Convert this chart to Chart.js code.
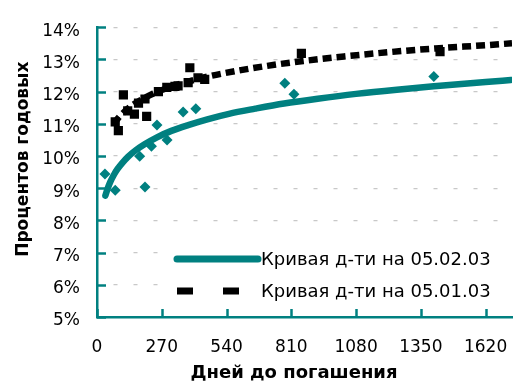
<!DOCTYPE html>
<html>
<head>
<meta charset="utf-8">
<script src="https://cdn.jsdelivr.net/npm/chart.js@4/dist/chart.umd.min.js"></script>
<style>
html,body{margin:0;padding:0;background:#fff;}
canvas{display:block;}
</style>
</head>
<body>
<canvas id="c" width="531" height="383"></canvas>
<script>
// ---- text ----
const xTitle = 'Дней до погашения';
const yTitle = 'Процентов годовых';
const labelFeb = 'Кривая д-ти на 05.02.03';
const labelJan = 'Кривая д-ти на 05.01.03';

// ---- tick labels ----
const xTickValues = [0, 270, 540, 810, 1080, 1350, 1620];
const yTickValues = [5, 6, 7, 8, 9, 10, 11, 12, 13, 14];
const yTickLabels = ['5%', '6%', '7%', '8%', '9%', '10%', '11%', '12%', '13%', '14%'];

// ---- yield curve 05.02.03 (teal solid) ----
const febCurveDays  = [35, 45, 55, 70, 85, 105, 130, 160, 200, 250, 310, 380, 460, 550, 660, 780, 920, 1080, 1250, 1430, 1620, 1725];
const febCurveRates = [8.77, 9.00, 9.19, 9.41, 9.59, 9.78, 9.98, 10.17, 10.37, 10.58, 10.78, 10.96, 11.14, 11.31, 11.47, 11.63, 11.78, 11.93, 12.06, 12.18, 12.30, 12.36];

// ---- yield curve 05.01.03 (black dashed) ----
const janCurveDays  = [70, 90, 115, 145, 185, 235, 300, 380, 470, 580, 710, 860, 1030, 1210, 1410, 1620, 1730];
const janCurveRates = [10.99, 11.19, 11.38, 11.56, 11.75, 11.94, 12.13, 12.31, 12.48, 12.64, 12.80, 12.95, 13.09, 13.22, 13.34, 13.44, 13.50];

// ---- observed bonds 05.02.03 (teal diamonds) ----
const febPointDays  = [33, 76, 178, 200, 227, 250, 292, 359, 412, 783, 821, 1404];
const febPointRates = [9.44, 8.94, 9.99, 9.04, 10.30, 10.96, 10.50, 11.37, 11.47, 12.26, 11.92, 12.47];

// ---- observed bonds 05.01.03 (black squares) ----
const janPointDays  = [76, 89, 110, 128, 156, 173, 200, 207, 256, 291, 325, 338, 380, 387, 421, 449, 852, 1430];
const janPointRates = [11.06, 10.79, 11.90, 11.40, 11.30, 11.64, 11.77, 11.23, 12.00, 12.13, 12.16, 12.18, 12.28, 12.74, 12.43, 12.38, 13.19, 13.24];

const TEAL = '#008080';
const FONT = 'DejaVu Sans';

const toXY = (xs, ys) => xs.map((v, i) => ({x: v, y: ys[i]}));

const decor = {
  id: 'decor',
  beforeDatasetsDraw(chart) {
    const {ctx, chartArea: a, scales: {x, y}} = chart;
    ctx.save();
    ctx.strokeStyle = TEAL;
    ctx.lineWidth = 2.5;
    xTickValues.forEach(v => {
      const px = Math.round(x.getPixelForValue(v)) + 0.5;
      ctx.beginPath(); ctx.moveTo(px, a.bottom); ctx.lineTo(px, a.bottom - 8); ctx.stroke();
    });
    yTickValues.forEach(v => {
      const py = Math.round(y.getPixelForValue(v)) + 0.5;
      ctx.beginPath(); ctx.moveTo(a.left, py); ctx.lineTo(a.left + 9, py); ctx.stroke();
    });
    ctx.restore();
  },
  afterDatasetsDraw(chart) {
    const {ctx, chartArea: a} = chart;
    const ds = chart.data.datasets;
    ctx.save();
    // legend box
    const bx = a.left + 68, by = a.bottom - 80, bw = a.right - bx - 3, bh = 68;
    ctx.fillStyle = '#fff';
    ctx.fillRect(bx, by, bw, bh);
    const lx0 = a.left + 80, lx1 = lx0 + 81;
    const rows = [by + 22, by + 54];
    [0, 1].forEach((k, i) => {
      const d = ds[k];
      ctx.strokeStyle = d.borderColor;
      ctx.lineWidth = 7;
      ctx.lineCap = k === 0 ? 'round' : 'butt';
      ctx.setLineDash(k === 0 ? [] : [16, 30]);
      ctx.beginPath(); ctx.moveTo(lx0, rows[i]); ctx.lineTo(lx1, rows[i]); ctx.stroke();
      ctx.setLineDash([]);
      ctx.fillStyle = '#000';
      ctx.font = '18px "' + FONT + '"';
      ctx.textAlign = 'left';
      ctx.textBaseline = 'middle';
      ctx.fillText(d.label, lx1 + 3, rows[i] + 1);
    });
    ctx.restore();
  },
  afterDraw(chart) {
    const {ctx, chartArea: a} = chart;
    ctx.save();
    ctx.fillStyle = '#000';
    ctx.textAlign = 'center';
    ctx.textBaseline = 'middle';
    ctx.font = 'bold 18px "' + FONT + '"';
    ctx.fillText(xTitle, a.left + 197, a.bottom + 56);
    ctx.font = 'bold 17px "' + FONT + '"';
    ctx.translate(24, a.top + 132);
    ctx.rotate(-Math.PI / 2);
    ctx.fillText(yTitle, 0, 0);
    ctx.restore();
  }
};

new Chart(document.getElementById('c'), {
  type: 'scatter',
  data: {
    datasets: [
      {
        label: labelFeb,
        data: toXY(febCurveDays, febCurveRates),
        showLine: true,
        borderColor: TEAL,
        backgroundColor: TEAL,
        borderWidth: 6.5,
        borderCapStyle: 'round',
        borderJoinStyle: 'round',
        cubicInterpolationMode: 'monotone',
        pointRadius: 0,
        order: 1
      },
      {
        label: labelJan,
        data: toXY(janCurveDays, janCurveRates),
        showLine: true,
        borderColor: '#000',
        backgroundColor: '#000',
        borderWidth: 6.5,
        borderDash: [9, 5],
        borderCapStyle: 'butt',
        cubicInterpolationMode: 'monotone',
        pointRadius: 0,
        order: 3
      },
      {
        label: 'feb points',
        data: toXY(febPointDays, febPointRates),
        pointStyle: 'rectRot',
        pointRadius: 5.5,
        pointBackgroundColor: TEAL,
        pointBorderColor: TEAL,
        pointBorderWidth: 0,
        showLine: false,
        order: 2
      },
      {
        label: 'jan points',
        data: toXY(janPointDays, janPointRates),
        pointStyle: 'rect',
        pointRadius: 6.5,
        pointBackgroundColor: '#000',
        pointBorderColor: '#000',
        pointBorderWidth: 0,
        showLine: false,
        order: 4
      }
    ]
  },
  options: {
    responsive: false,
    devicePixelRatio: 1,
    animation: false,
    events: [],
    layout: {padding: {left: 0, right: 19, top: 21, bottom: 0}},
    plugins: {legend: {display: false}, tooltip: {enabled: false}},
    scales: {
      x: {
        type: 'linear',
        min: 0,
        max: 1730,
        afterFit: s => { s.height = 66; },
        grid: {display: false, drawTicks: false},
        border: {display: true, color: TEAL, width: 2.5},
        ticks: {
          stepSize: 270,
          includeBounds: false,
          autoSkip: false,
          maxRotation: 0,
          padding: 20,
          color: '#000',
          font: {family: FONT, size: 17},
          callback: v => xTickValues.includes(v) ? String(v) : ''
        }
      },
      y: {
        min: 5,
        max: 14,
        afterFit: s => { s.width = 97; },
        grid: {display: true, drawTicks: false, color: '#c8c8c8', lineWidth: 1.2},
        border: {display: true, color: TEAL, width: 2.5, dash: [4, 16], dashOffset: -15},
        ticks: {
          stepSize: 1,
          padding: 17,
          labelOffset: 4,
          color: '#000',
          font: {family: FONT, size: 17},
          callback: v => { const i = yTickValues.indexOf(v); return i >= 0 ? yTickLabels[i] : ''; }
        }
      }
    }
  },
  plugins: [decor]
});
</script>
</body>
</html>
